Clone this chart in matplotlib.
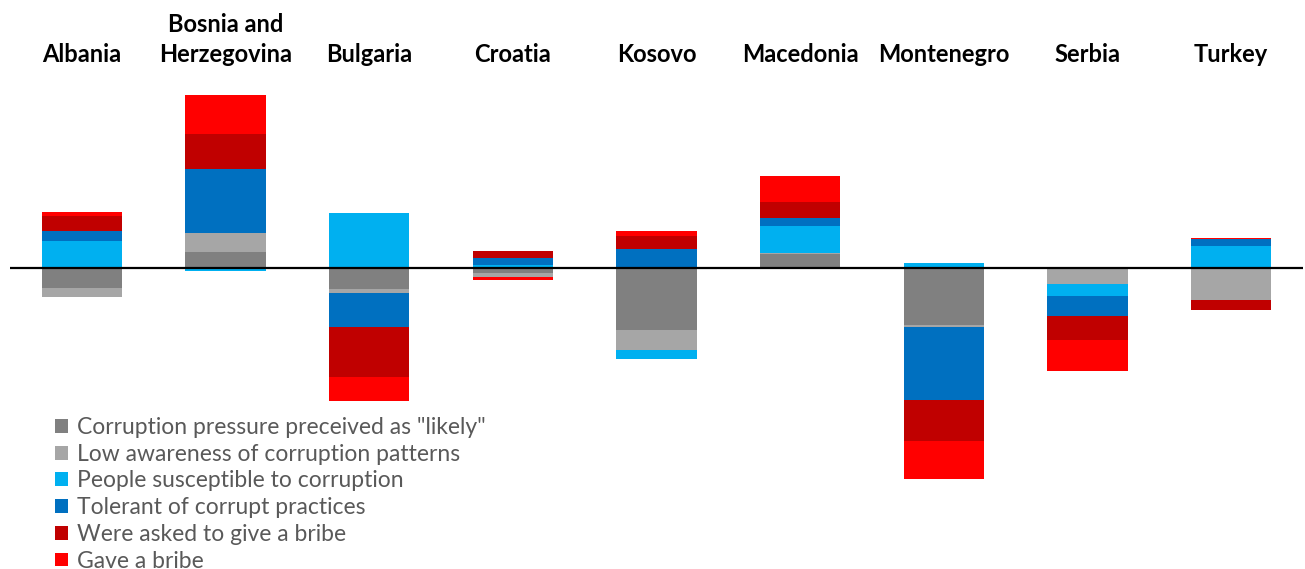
import numpy as np
import matplotlib.pyplot as plt
from matplotlib.patches import Patch
from matplotlib.transforms import blended_transform_factory

# Countries and the six indicators (relative deviation)
countries = ['Albania', 'Bosnia and\nHerzegovina', 'Bulgaria', 'Croatia', 'Kosovo',
             'Macedonia', 'Montenegro', 'Serbia', 'Turkey']

pressure = [-19.7, 16.0, -21.3, -4.7, -62.3, 13.7, -56.7, 0.0, 0.0]
awareness = [-9.7, 18.7, -4.0, -4.0, -20.0, 1.7, -2.0, -16.3, -32.0]
susceptible = [26.7, -2.7, 54.7, 3.3, -9.0, 26.7, 5.0, -12.0, 22.0]
tolerant = [10.7, 64.0, -33.3, 6.7, 18.7, 8.3, -73.0, -19.7, 6.7]
asked = [14.7, 35.7, -50.3, 6.7, 13.3, 16.0, -41.7, -24.3, -9.7]
gave = [3.7, 38.7, -24.0, -3.3, 5.3, 25.3, -37.3, -30.3, 1.7]

labels = ['Corruption pressure preceived as "likely"',
          'Low awareness of corruption patterns',
          'People susceptible to corruption',
          'Tolerant of corrupt practices',
          'Were asked to give a bribe',
          'Gave a bribe']
colors = ['#808080', '#A6A6A6', '#00B0F0', '#0070C0', '#C00000', '#FF0000']

series = [pressure, awareness, susceptible, tolerant, asked, gave]

plt.rcParams['font.family'] = ['Lato', 'DejaVu Sans']

fig = plt.figure(figsize=(13.05, 5.69), dpi=100)
ax = fig.add_axes([10 / 1305, 0, 1293 / 1305, 1])

x = np.arange(len(countries))
pos = np.zeros(len(countries))
neg = np.zeros(len(countries))
for vals, col in zip(series, colors):
    v = np.array(vals)
    bottom = np.where(v >= 0, pos, neg)
    ax.bar(x, v, width=0.56, bottom=bottom, color=col, linewidth=0)
    pos = pos + np.clip(v, 0, None)
    neg = neg + np.clip(v, None, 0)

ax.axhline(0, color='black', lw=1.6)
ax.set_xlim(-0.5, 8.5)
ax.set_ylim(-301, 268)
ax.axis('off')

trans = blended_transform_factory(ax.transData, fig.transFigure)
for i, name in enumerate(countries):
    ax.text(i, 1 - 62 / 569, name, transform=trans, ha='center', va='baseline',
            fontsize=17, fontweight='bold', color='black', linespacing=1.38)

handles = [Patch(facecolor=c, edgecolor='none') for c in colors]
leg = fig.legend(handles, labels, loc='upper left', bbox_to_anchor=(55 / 1305, 1 - 417 / 569),
                 frameon=False, fontsize=16.5, handlelength=0.55, handleheight=0.55,
                 handletextpad=0.4, labelspacing=0.25, borderpad=0, borderaxespad=0)
for t in leg.get_texts():
    t.set_color('#595959')

fig.savefig('out.png', dpi=100)
